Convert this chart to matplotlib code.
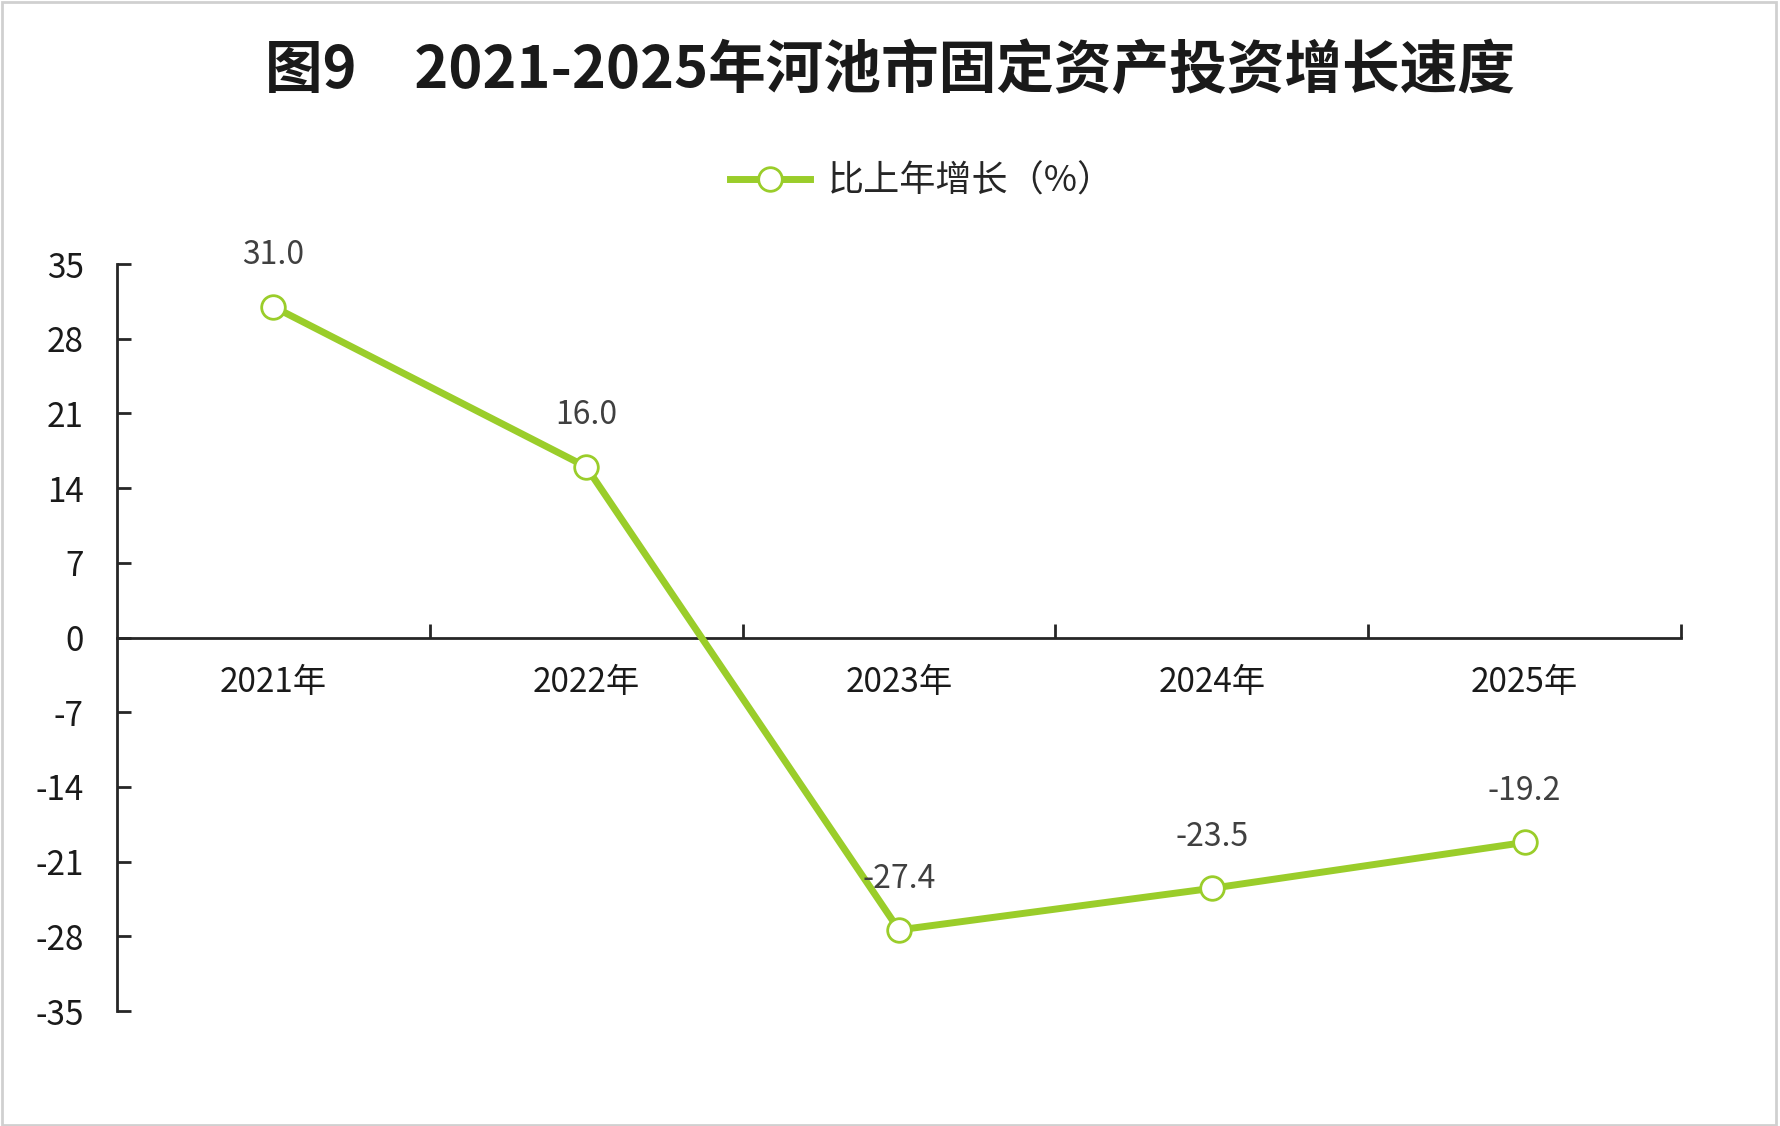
import matplotlib
matplotlib.use("Agg")
import matplotlib.pyplot as plt
from matplotlib.patches import Rectangle

plt.rcParams['font.family'] = ['Noto Sans CJK SC', 'DejaVu Sans']
plt.rcParams['axes.unicode_minus'] = False

title = "图9　2021-2025年河池市固定资产投资增长速度"
categories = ["2021年", "2022年", "2023年", "2024年", "2025年"]
growth = [31.0, 16.0, -27.4, -23.5, -19.2]
series_name = "比上年增长（%）"
yticks = [35, 28, 21, 14, 7, 0, -7, -14, -21, -28, -35]

green = '#9ACD2A'
dark = '#262626'

fig = plt.figure(figsize=(17.8, 11.26), dpi=100)
fig.patch.set_facecolor('white')
fig.patches.append(Rectangle((0.001, 0.001), 0.997, 0.997, transform=fig.transFigure,
                             fill=False, edgecolor='#D0D0D0', linewidth=2))

ax = fig.add_axes([0.0657, 0.1021, 0.8787, 0.6634])
x = list(range(len(categories)))
line, = ax.plot(x, growth, color=green, linewidth=5, marker='o', markersize=17,
                markerfacecolor='white', markeredgecolor=green, markeredgewidth=2,
                label=series_name, zorder=3, solid_joinstyle='round')

for xi, v in zip(x, growth):
    ax.annotate(f"{v:.1f}", (xi, v), xytext=(0, 37), textcoords='offset points',
                ha='center', va='center', fontsize=23, color='#404040', zorder=4)

ax.set_xlim(-0.5, len(categories) - 0.5)
ax.set_ylim(-35, 35)
ax.set_yticks(yticks)
ax.set_yticklabels([str(t) for t in yticks])

for s in ['top', 'right']:
    ax.spines[s].set_visible(False)
ax.spines['bottom'].set_position(('data', 0))
for s in ['left', 'bottom']:
    ax.spines[s].set_linewidth(2)
    ax.spines[s].set_color(dark)

ax.set_xticks([i + 0.5 for i in x])
ax.set_xticklabels([])
ax.set_xticks(x, minor=True)
ax.set_xticklabels(categories, minor=True)
ax.tick_params(axis='x', which='major', direction='in', length=10, width=2, color=dark)
ax.tick_params(axis='x', which='minor', length=0, pad=20, labelsize=24, labelcolor='#1a1a1a')
ax.tick_params(axis='y', direction='in', length=10, width=2, color=dark, pad=24,
               labelsize=24, labelcolor='#1a1a1a')

fig.text(0.5, 0.937, title, ha='center', va='center', fontsize=41.5, fontweight='bold',
         color='#1a1a1a')

leg = fig.legend(handles=[line], loc='center', bbox_to_anchor=(0.518, 0.839), frameon=False,
                 fontsize=26, handlelength=2.2, handletextpad=0.5)
for t in leg.get_texts():
    t.set_color('#262626')

fig.savefig('out.png', dpi=100, facecolor='white')
